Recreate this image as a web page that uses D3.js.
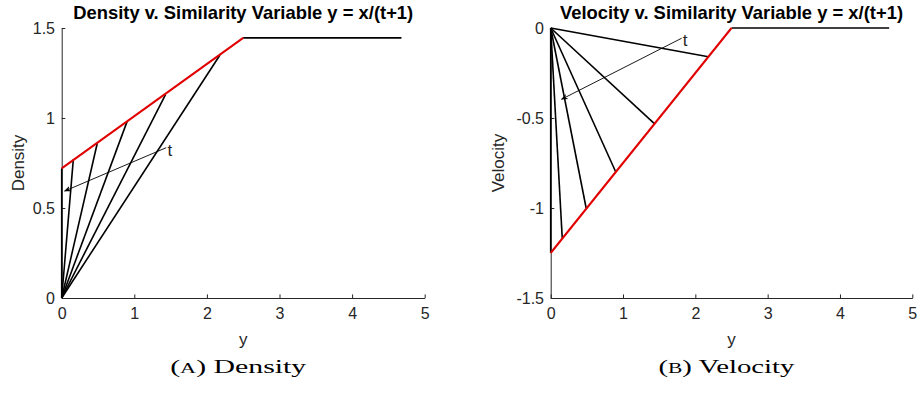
<!DOCTYPE html>
<html>
<head>
<meta charset="utf-8">
<script src="https://cdn.jsdelivr.net/npm/d3@7"></script>
<style>
  body { margin: 0; background: #fff; }
  svg { display: block; }
  .sans { font-family: "Liberation Sans", Arial, Helvetica, sans-serif; }
  .serif { font-family: "Liberation Serif", "Times New Roman", serif; }
</style>
</head>
<body>
<svg id="fig" width="918" height="397"></svg>
<script>
// Similarity variable at which each time slice meets the envelope
const fanY = [0, 0.16, 0.49, 0.90, 1.43, 2.18];
const fanDensity = [0.72, 0.77, 0.86, 0.98, 1.13, 1.35];
const fanVelocity = [-1.25, -1.17, -1.00, -0.80, -0.53, -0.16];

// Envelope (red) and constant state to the right
const envelopeY = [0, 2.5];
const densityEnvelope = [0.72, 1.445];
const velocityEnvelope = [-1.25, 0];
const plateauY = [2.5, 4.68];
const densityPlateau = [1.445, 1.445];
const velocityPlateau = [0, 0];

// Tick values
const xTicks = [0, 1, 2, 3, 4, 5];
const densityTicks = [0, 0.5, 1, 1.5];
const velocityTicks = [-1.5, -1, -0.5, 0];

// Direction-of-time arrows: [tail, head] in data units
const densityArrow = [[1.44, 0.835], [0.04, 0.594]];
const velocityArrow = [[1.81, -0.057], [0.15, -0.396]];

const panels = [
  {
    title: "Density v. Similarity Variable y = x/(t+1)",
    ylabel: "Density", letter: "A", word: "Density",
    xRange: [61.7, 424.7], yDomain: [0, 1.5], yTicks: densityTicks,
    fan: fanDensity, env: densityEnvelope, plateau: densityPlateau,
    arrow: densityArrow, ylabelX: 23.5
  },
  {
    title: "Velocity v. Similarity Variable y = x/(t+1)",
    ylabel: "Velocity", letter: "B", word: "Velocity",
    xRange: [550.7, 912.3], yDomain: [-1.5, 0], yTicks: velocityTicks,
    fan: fanVelocity, env: velocityEnvelope, plateau: velocityPlateau,
    arrow: velocityArrow, ylabelX: 504
  }
];

const svg = d3.select("#fig");
const axisColor = "#262626";
const yRange = [298, 28];
const plainNumber = d => String(d);   // ASCII hyphen for negatives

svg.append("defs").append("marker")
  .attr("id", "head")
  .attr("viewBox", "0 0 10 10")
  .attr("refX", 9).attr("refY", 5)
  .attr("markerWidth", 7).attr("markerHeight", 7)
  .attr("markerUnits", "userSpaceOnUse")
  .attr("orient", "auto")
  .append("path")
  .attr("d", "M0,1 L10,5 L0,9 L3,5 Z")
  .attr("fill", "#000");

panels.forEach(p => {
  const x = d3.scaleLinear().domain([0, 5]).range(p.xRange);
  const y = d3.scaleLinear().domain(p.yDomain).range(yRange);
  const cx = (p.xRange[0] + p.xRange[1]) / 2;
  const g = svg.append("g");

  // axes (box off, ticks pointing inward)
  const xa = g.append("g")
    .attr("transform", `translate(0,${yRange[0]})`)
    .call(d3.axisBottom(x).tickValues(xTicks).tickSizeInner(-3.6).tickSizeOuter(0).tickPadding(10).tickFormat(plainNumber));
  const ya = g.append("g")
    .attr("transform", `translate(${p.xRange[0]},0)`)
    .call(d3.axisLeft(y).tickValues(p.yTicks).tickSizeInner(-3.6).tickSizeOuter(0).tickPadding(6.7).tickFormat(plainNumber));
  [xa, ya].forEach(a => {
    a.selectAll("path, line").attr("stroke", axisColor).attr("stroke-width", 1);
    a.selectAll("text").attr("class", "sans").attr("font-size", 16).attr("fill", axisColor);
  });

  const line = d3.line().x(d => x(d[0])).y(d => y(d[1]));

  // plateau
  g.append("path")
    .datum(d3.zip(plateauY, p.plateau))
    .attr("d", line).attr("fill", "none").attr("stroke", "#000").attr("stroke-width", 1.6);

  // fan of time slices from the origin to the envelope
  g.selectAll(".fan").data(d3.zip(fanY, p.fan)).join("path")
    .attr("class", "fan")
    .attr("d", d => line([[0, 0], d]))
    .attr("fill", "none").attr("stroke", "#000").attr("stroke-width", 1.6);

  // envelope
  g.append("path")
    .datum(d3.zip(envelopeY, p.env))
    .attr("d", line).attr("fill", "none").attr("stroke", "#e00000").attr("stroke-width", 2);

  // time arrow
  g.append("line")
    .attr("x1", x(p.arrow[0][0])).attr("y1", y(p.arrow[0][1]))
    .attr("x2", x(p.arrow[1][0])).attr("y2", y(p.arrow[1][1]))
    .attr("stroke", "#000").attr("stroke-width", 0.9)
    .attr("marker-end", "url(#head)");
  g.append("text").attr("class", "sans")
    .attr("x", x(p.arrow[0][0]) + 1.2).attr("y", y(p.arrow[0][1]) + 8)
    .attr("font-size", 17).attr("fill", axisColor).text("t");

  // title
  g.append("text").attr("class", "sans")
    .attr("x", cx).attr("y", 18.5).attr("text-anchor", "middle")
    .attr("font-size", 18.4).attr("font-weight", "bold").attr("fill", "#000")
    .text(p.title);

  // axis labels
  g.append("text").attr("class", "sans")
    .attr("x", cx).attr("y", 344.5).attr("text-anchor", "middle")
    .attr("font-size", 17).attr("fill", axisColor).text("y");
  g.append("text").attr("class", "sans")
    .attr("transform", `translate(${p.ylabelX},${(yRange[0] + yRange[1]) / 2}) rotate(-90)`)
    .attr("text-anchor", "middle")
    .attr("font-size", 17).attr("fill", axisColor).text(p.ylabel);

  // sub-figure caption, set wide like the document's roman face
  const cap = g.append("text").attr("class", "serif")
    .attr("x", cx - 5).attr("y", 372.5).attr("text-anchor", "middle")
    .attr("font-size", 19.5).attr("fill", "#000")
    .attr("textLength", 136).attr("lengthAdjust", "spacingAndGlyphs");
  cap.append("tspan").text("(");
  cap.append("tspan").attr("font-size", 14.5).text(p.letter);
  cap.append("tspan").text(") " + p.word);
});
</script>
</body>
</html>
